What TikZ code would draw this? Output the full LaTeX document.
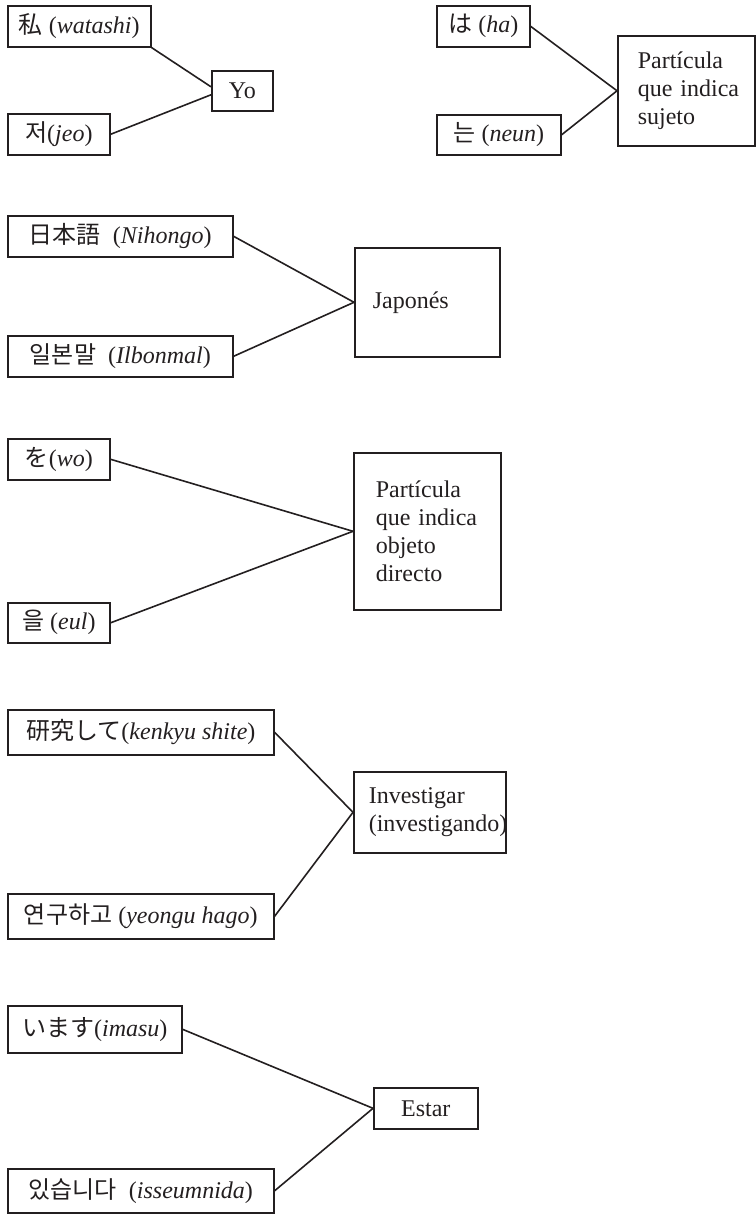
\documentclass[tikz,border=0pt]{standalone}
\usepackage{fontspec}
\setmainfont{Liberation Serif}
\newfontfamily\jpfont{Noto Sans CJK JP}
\newfontfamily\krfont{Noto Sans CJK KR}
\hyphenpenalty=10000
\exhyphenpenalty=10000
\definecolor{ink}{RGB}{35,31,32}
\newcommand{\rom}[1]{(\textit{#1})}

\begin{document}
\begin{tikzpicture}[x=0.5pt,y=-0.5pt,
  color=ink,line width=0.8pt,
  word node/.style={draw,anchor=north west,inner sep=0pt,minimum height=20.5pt,font=\fontsize{12pt}{14pt}\selectfont},
  sense node/.style={draw,anchor=north west,inner ysep=0pt,align=left,font=\fontsize{12pt}{14pt}\selectfont}]

  \useasboundingbox (0,0) rectangle (755,1214);

  % yo
  \node[word node,minimum width=71.5pt] (wa) at (7,5) {{\jpfont 私} \rom{watashi}};
  \node[word node,minimum width=51pt] (jeo) at (7,113) {{\krfont 저}\rom{jeo}};
  \node[word node,minimum width=30.5pt,minimum height=20pt] (yo) at (211,70) {Yo};

  % sujeto
  \node[word node,minimum width=46.5pt] (ha) at (436,5) {{\jpfont は} \rom{ha}};
  \node[word node,minimum width=62pt,minimum height=20pt] (neun) at (436,114) {{\krfont 는} \rom{neun}};
  \node[sense node,text width=48.5pt,inner xsep=10pt,minimum height=55pt] (suj) at (617,35) {Partícula\\que~indica\\sujeto};

  % japones
  \node[word node,minimum width=112.5pt] (nih) at (7,215) {{\jpfont 日本語}\enspace\rom{Nihongo}};
  \node[word node,minimum width=112.5pt] (ilb) at (7,335) {{\krfont 일본말}\enspace\rom{Ilbonmal}};
  \node[sense node,text width=54.5pt,inner xsep=9pt,minimum height=54.5pt] (jap) at (354,247) {Japonés};

  % objeto
  \node[word node,minimum width=51pt] (wo) at (7,438) {{\jpfont を}\rom{wo}};
  \node[word node,minimum width=51pt,minimum height=20pt] (eul) at (7,602) {{\krfont 을} \rom{eul}};
  \node[sense node,text width=51.5pt,inner xsep=11pt,minimum height=78.5pt] (obj) at (353,452) {Partícula\\que~indica\\objeto\\directo};

  % investigar
  \node[word node,minimum width=133pt,minimum height=22.5pt] (ken) at (7,709) {{\jpfont 研究して}\rom{kenkyu shite}};
  \node[word node,minimum width=133pt,minimum height=22.5pt] (yeo) at (7,893) {{\krfont 연구하고} \rom{yeongu hago}};
  \node[sense node,text width=61pt,inner xsep=7.5pt,minimum height=40.5pt] (inv) at (353,771) {Investigar\\(investigando)};

  % estar
  \node[word node,minimum width=87pt,minimum height=23.5pt] (ima) at (7,1005) {{\jpfont います}\rom{imasu}};
  \node[word node,minimum width=133pt,minimum height=22pt] (iss) at (7,1168) {{\krfont 있습니다}\enspace\rom{isseumnida}};
  \node[word node,minimum width=52pt] (est) at (373,1087) {Estar};

  \path
   (wa.south east) edge ([yshift=2pt]yo.west)
   (jeo.east) edge ([yshift=-2pt]yo.west)
   (ha.east) edge (suj.west)
   (neun.east) edge (suj.west)
   (nih.east) edge (jap.west)
   (ilb.east) edge (jap.west)
   (wo.east) edge (obj.west)
   (eul.east) edge (obj.west)
   (ken.east) edge (inv.west)
   (yeo.east) edge (inv.west)
   (ima.east) edge (est.west)
   (iss.east) edge (est.west);

\end{tikzpicture}
\end{document}
